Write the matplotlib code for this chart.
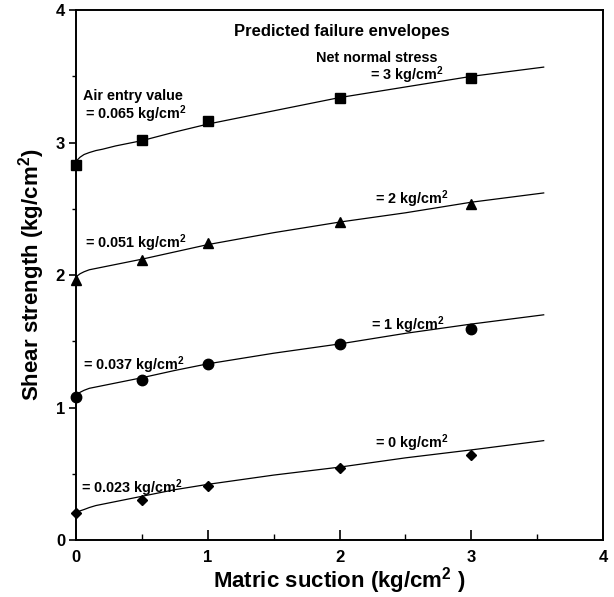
import numpy as np
from matplotlib import pyplot as plt
from matplotlib.ticker import MultipleLocator

plt.rcParams['font.family'] = ['Liberation Sans', 'DejaVu Sans']
plt.rcParams['font.weight'] = 'bold'
plt.rcParams['mathtext.fontset'] = 'custom'
plt.rcParams['mathtext.rm'] = 'Liberation Sans:bold'
plt.rcParams['mathtext.bf'] = 'Liberation Sans:bold'

# measured points (matric suction, shear strength)
suction = [0, 0.5, 1, 2, 3]
tau_3 = [2.83, 3.02, 3.16, 3.34, 3.49]
tau_2 = [1.96, 2.11, 2.24, 2.40, 2.54]
tau_1 = [1.08, 1.21, 1.33, 1.48, 1.59]
tau_0 = [0.20, 0.30, 0.41, 0.54, 0.64]

# predicted envelopes
curve_x = [0, 0.01, 0.03, 0.06, 0.1, 0.15, 0.2, 0.3, 0.4, 0.5, 0.75, 1, 1.5, 2, 2.5, 3, 3.55]
pred_3 = [2.85, 2.87, 2.89, 2.91, 2.925, 2.94, 2.95, 2.975, 2.995, 3.015, 3.08, 3.14, 3.24, 3.34, 3.42, 3.50, 3.57]
pred_2 = [1.98, 1.995, 2.01, 2.025, 2.04, 2.05, 2.06, 2.08, 2.10, 2.12, 2.175, 2.23, 2.32, 2.40, 2.47, 2.55, 2.62]
pred_1 = [1.09, 1.10, 1.115, 1.13, 1.145, 1.155, 1.165, 1.185, 1.205, 1.225, 1.28, 1.33, 1.41, 1.48, 1.56, 1.63, 1.70]
pred_0 = [0.20, 0.21, 0.22, 0.23, 0.245, 0.26, 0.27, 0.29, 0.31, 0.33, 0.38, 0.42, 0.49, 0.55, 0.62, 0.68, 0.75]

fig = plt.figure(figsize=(6.14, 5.97), dpi=100)
ax = fig.add_axes([0.124, 0.0955, 0.858, 0.8875])

for pred in [pred_3, pred_2, pred_1, pred_0]:
    ax.plot(curve_x, pred, color='black', lw=0.9, clip_on=False)

ax.plot(suction, tau_3, 's', color='black', ms=6.5, clip_on=False)
ax.plot(suction, tau_2, '^', color='black', ms=7, clip_on=False)
ax.plot(suction, tau_1, 'o', color='black', ms=7.5, clip_on=False)
ax.plot(suction, tau_0, 'D', color='black', ms=5.5, clip_on=False)

ax.set_xlim(0, 4)
ax.set_ylim(0, 4)
ax.xaxis.set_major_locator(MultipleLocator(1))
ax.xaxis.set_minor_locator(MultipleLocator(0.5))
ax.yaxis.set_major_locator(MultipleLocator(1))
ax.yaxis.set_minor_locator(MultipleLocator(0.5))
ax.tick_params(axis='x', which='major', direction='in', length=7, width=1.2, labelsize=12, pad=7)
ax.tick_params(axis='x', which='minor', direction='in', length=4, width=1.0)
ax.tick_params(axis='y', which='major', direction='out', length=5, width=1.2, labelsize=12, pad=3)
ax.tick_params(axis='y', which='minor', direction='out', length=3, width=1.0)
for sp in ax.spines.values():
    sp.set_linewidth(1.4)

ax.set_xlabel('Matric suction (kg/cm$^{2}$ )', fontsize=16, fontweight='bold', labelpad=0)
ax.set_ylabel('Shear strength (kg/cm$^{2}$)', fontsize=16, fontweight='bold')
ax.yaxis.set_label_coords(-0.055, 0.5)

fs = 10.4
ax.text(2.02, 3.84, 'Predicted failure envelopes', fontsize=12, ha='center', va='center')
ax.text(1.82, 3.64, 'Net normal stress', fontsize=fs, va='center')
ax.text(2.23, 3.51, '= 3 kg/cm$^{2}$', fontsize=fs, va='center')
ax.text(0.05, 3.35, 'Air entry value', fontsize=fs, va='center')
ax.text(0.07, 3.215, '= 0.065 kg/cm$^{2}$', fontsize=fs, va='center')
ax.text(2.27, 2.57, '= 2 kg/cm$^{2}$', fontsize=fs, va='center')
ax.text(0.07, 2.24, '= 0.051 kg/cm$^{2}$', fontsize=fs, va='center')
ax.text(2.24, 1.62, '= 1 kg/cm$^{2}$', fontsize=fs, va='center')
ax.text(0.05, 1.32, '= 0.037 kg/cm$^{2}$', fontsize=fs, va='center')
ax.text(2.27, 0.73, '= 0 kg/cm$^{2}$', fontsize=fs, va='center')
ax.text(0.04, 0.39, '= 0.023 kg/cm$^{2}$', fontsize=fs, va='center')

fig.savefig('out.png', dpi=100)
